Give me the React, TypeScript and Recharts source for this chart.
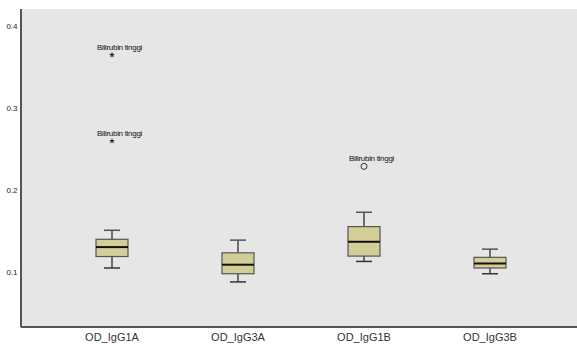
import {
  ComposedChart,
  Bar,
  Scatter,
  XAxis,
  YAxis,
  CartesianGrid,
} from "recharts";

const categories = ["OD_IgG1A", "OD_IgG3A", "OD_IgG1B", "OD_IgG3B"];
const whiskerLow = [0.105, 0.088, 0.113, 0.098];
const q1 = [0.119, 0.098, 0.1195, 0.105];
const median = [0.1305, 0.109, 0.137, 0.1105];
const q3 = [0.14, 0.1235, 0.1555, 0.118];
const whiskerHigh = [0.151, 0.139, 0.173, 0.128];
const extremeA = [0.365, null, null, null];
const extremeB = [0.26, null, null, null];
const outliers = [null, null, 0.229, null];
const outlierLabel = "Bilirubin tinggi";
const yTicks = [0.1, 0.2, 0.3, 0.4];

const data = categories.map((name, i) => ({
  name,
  low: whiskerLow[i],
  q1: q1[i],
  median: median[i],
  q3: q3[i],
  high: whiskerHigh[i],
  extA: extremeA[i],
  extB: extremeB[i],
  out: outliers[i],
}));

const BoxShape = (props: any) => {
  const { x, y, width, height, payload } = props;
  if (x == null || y == null) return null;
  const top = Math.min(y, y + height);
  const h = Math.abs(height);
  const { low, high } = payload;
  const py = (v: number) => top + (h * (high - v)) / (high - low);
  const cx = x + width / 2;
  const capW = 16;
  return (
    <g>
      <line x1={cx} x2={cx} y1={py(high)} y2={py(payload.q3)} stroke="#444" strokeWidth={1.5} />
      <line x1={cx} x2={cx} y1={py(payload.q1)} y2={py(low)} stroke="#444" strokeWidth={1.5} />
      <line x1={cx - capW / 2} x2={cx + capW / 2} y1={py(high)} y2={py(high)} stroke="#555" strokeWidth={1.5} />
      <line x1={cx - capW / 2} x2={cx + capW / 2} y1={py(low)} y2={py(low)} stroke="#333" strokeWidth={1.5} />
      <rect
        x={x}
        y={py(payload.q3)}
        width={width}
        height={py(payload.q1) - py(payload.q3)}
        fill="#d3ce97"
        stroke="#555"
        strokeWidth={1.2}
      />
      <line x1={x} x2={x + width} y1={py(payload.median)} y2={py(payload.median)} stroke="#111" strokeWidth={2} />
    </g>
  );
};

const makePoint = (key: string, kind: "star" | "circle") => (props: any) => {
  const { cx, cy, payload } = props;
  if (payload == null || payload[key] == null || cx == null || cy == null) return <g />;
  const pts: string[] = [];
  for (let k = 0; k < 10; k++) {
    const r = k % 2 === 0 ? 3.2 : 1.3;
    const a = -Math.PI / 2 + (k * Math.PI) / 5;
    pts.push(`${cx + r * Math.cos(a)},${cy + r * Math.sin(a)}`);
  }
  return (
    <g>
      <text
        x={cx - 15}
        y={cy - 8}
        dy="0.35em"
        fontSize={8}
        letterSpacing={-0.3}
        fill="#111"
        fontFamily="Liberation Sans, Arial, sans-serif"
      >
        {outlierLabel}
      </text>
      {kind === "star" ? (
        <polygon points={pts.join(" ")} fill="#333" />
      ) : (
        <circle cx={cx} cy={cy} r={3} fill="none" stroke="#333" strokeWidth={1} />
      )}
    </g>
  );
};

const App: React.FC = () => {
  return (
    <div style={{ position: "absolute", left: 0, top: 0, fontFamily: "Liberation Sans, Arial, sans-serif" }}>
      <ComposedChart
        width={577}
        height={349}
        data={data}
        margin={{ top: 9, right: 0, bottom: 0, left: 0 }}
      >
        <CartesianGrid fill="#e6e6e6" horizontal={false} vertical={false} />
        <XAxis
          dataKey="name"
          height={22}
          padding={{ left: 28, right: 24 }}
          axisLine={{ stroke: "#555", strokeWidth: 2 }}
          tickLine={false}
          tickSize={0}
          tickMargin={6}
          tick={{ fontSize: 11, fill: "#333" }}
        />
        <XAxis
          xAxisId="top"
          dataKey="name"
          orientation="top"
          height={0}
          padding={{ left: 28, right: 24 }}
          axisLine={{ stroke: "#555", strokeWidth: 2 }}
          tickLine={false}
          tick={false}
        />
        <YAxis
          type="number"
          width={21}
          domain={[0.033, 0.421]}
          ticks={yTicks}
          allowDataOverflow
          axisLine={{ stroke: "#555", strokeWidth: 2 }}
          tickLine={false}
          tickSize={0}
          tickMargin={3.5}
          tickFormatter={(v: number) => v.toFixed(1)}
          tick={{ fontSize: 8, fill: "#222" }}
        />
        <Bar
          dataKey={(d: any) => [d.low, d.high]}
          barSize={32}
          shape={BoxShape}
          isAnimationActive={false}
        />
        <Scatter dataKey="extA" shape={makePoint("extA", "star")} isAnimationActive={false} />
        <Scatter dataKey="extB" shape={makePoint("extB", "star")} isAnimationActive={false} />
        <Scatter dataKey="out" shape={makePoint("out", "circle")} isAnimationActive={false} />
      </ComposedChart>
    </div>
  );
};

export default App;
